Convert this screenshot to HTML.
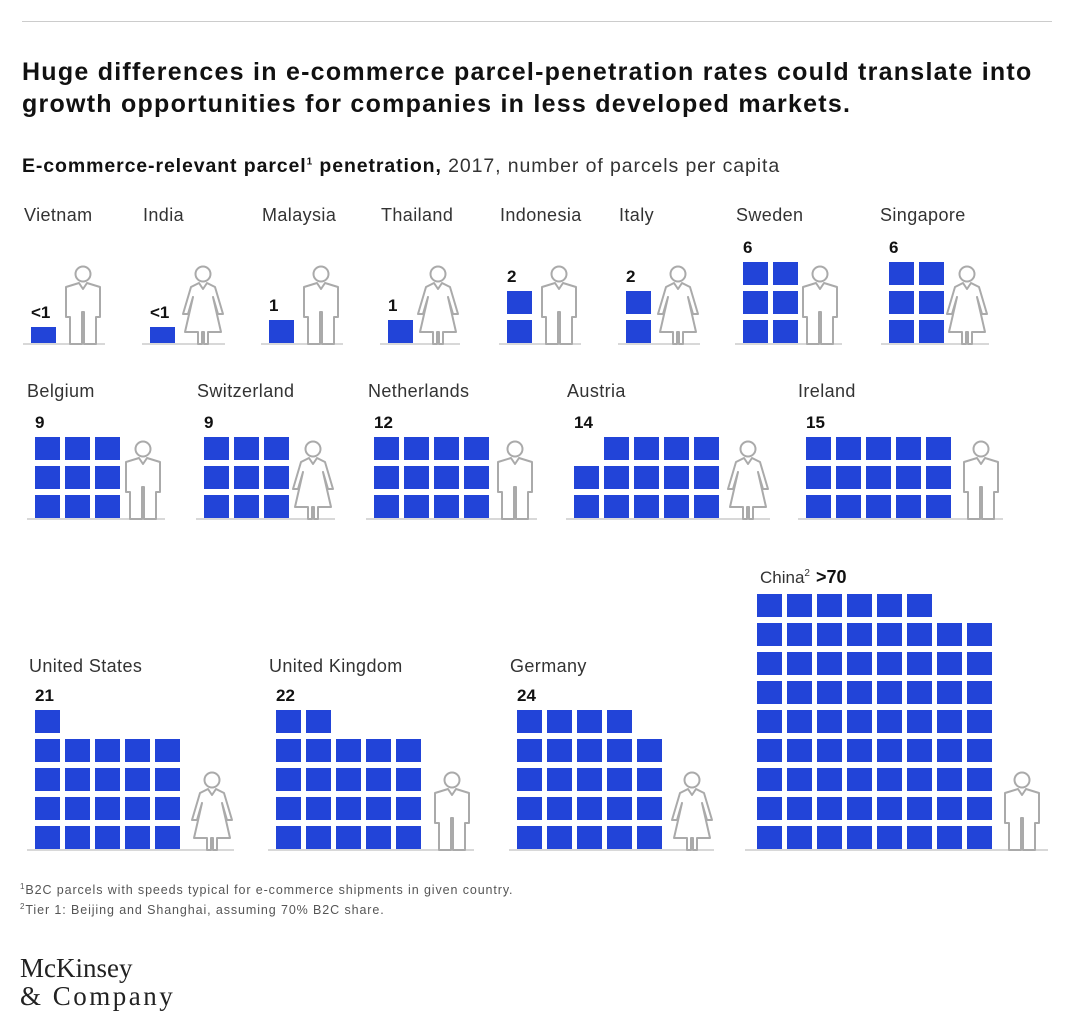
<!DOCTYPE html>
<html><head><meta charset="utf-8"><style>
body{margin:0;background:#fff;width:1080px;height:1019px;overflow:hidden;position:relative;font-family:"Liberation Sans",Arial,sans-serif;color:#222}
.t{position:absolute;white-space:nowrap}
</style></head><body>
<div class="t" style="left:22px;top:21px;width:1030px;height:1px;background:#ccc"></div>
<div class="t" style="left:22px;top:56px;font-size:25px;font-weight:bold;line-height:32px;color:#111;letter-spacing:1.25px">Huge differences in e-commerce parcel-penetration rates could translate into<br>growth opportunities for companies in less developed markets.</div>
<div class="t" style="left:22px;top:155px;font-size:19.5px;color:#333;letter-spacing:0.9px"><b style="color:#111">E-commerce-relevant parcel<sup style="font-size:10px">1</sup> penetration,</b> 2017, number of parcels per capita</div>
<svg width="1080" height="1019" style="position:absolute;left:0;top:0" id="s"></svg>
<div class="t" style="left:20px;top:882px;font-size:12.5px;color:#555;letter-spacing:0.9px"><sup style="font-size:8px">1</sup>B2C parcels with speeds typical for e-commerce shipments in given country.</div>
<div class="t" style="left:20px;top:902px;font-size:12.5px;color:#555;letter-spacing:0.9px"><sup style="font-size:8px">2</sup>Tier 1: Beijing and Shanghai, assuming 70% B2C share.</div>
<div class="t" style="left:20px;top:954px;font-family:'Liberation Serif',serif;font-size:27px;line-height:28px;color:#222">McKinsey<br><span style="letter-spacing:2.5px">&amp; Company</span></div>
<script>
const s=document.getElementById('s');let h='';
const B='#2244d8';
function person(cx,b,w){
 h+=`<circle cx="${cx}" cy="${b-70}" r="7.5" fill="none" stroke="#aaa" stroke-width="2"/>`;
 let p;
 if(!w){p=[[-4,-61],[-17,-57],[-17,-27],[-13,-27],[-13,0],[-1,0],[-1,-32],[1,-32],[1,0],[13,0],[13,-27],[17,-27],[17,-57],[4,-61],[0,-55]];}
 else{p=[[-4,-61],[-12,-57],[-20,-30],[-15,-30],[-10,-47],[-18,-12],[-5,-12],[-5,0],[-1,0],[-1,-12],[1,-12],[1,0],[5,0],[5,-12],[18,-12],[10,-47],[15,-30],[20,-30],[12,-57],[4,-61],[0,-55]];}
 h+=`<polygon points="${p.map(q=>(cx+q[0])+','+(b+q[1])).join(' ')}" fill="none" stroke="#aaa" stroke-width="2" stroke-linejoin="round"/>`;
}
function txt(x,y,t,bold,size){h+=`<text x="${x}" y="${y}" font-size="${size}" ${bold?'font-weight="bold" fill="#111"':'fill="#333" letter-spacing="0.4"'}>${t}</text>`;}
function grid(x,b,rows){let top=b;rows.forEach((r,k)=>{let y=b-24-k*29;top=y;for(let i=0;i<r[1];i++)h+=`<rect x="${x+(r[0]+i)*30}" y="${y}" width="25" height="23" fill="${B}"/>`;});return top;}
function item(o){
 h+=`<line x1="${o.l1}" x2="${o.l2}" y1="${o.b}" y2="${o.b}" stroke="#ccc" stroke-width="1.5"/>`;
 let top;
 if(o.small){h+=`<rect x="${o.gx}" y="${o.b-17}" width="25" height="16" fill="${B}"/>`;top=o.b-17;}
 else top=grid(o.gx,o.b,o.rows);
 person(o.px,o.b,o.w);
 txt(o.lx,o.ly,o.name,false,18);
 if(o.num)txt(o.gx+(o.nx||0),top-9,o.num,true,17);
}
const r1=344,L1=221;
[['Vietnam',24,31,83,0,'&lt;1',1],['India',143,150,203,1,'&lt;1',1],['Malaysia',262,269,321,0,'1',[[0,1]]],['Thailand',381,388,438,1,'1',[[0,1]]],
['Indonesia',500,507,559,0,'2',[[0,1],[0,1]]],['Italy',619,626,678,1,'2',[[0,1],[0,1]]],['Sweden',736,743,820,0,'6',[[0,2],[0,2],[0,2]]],['Singapore',880,889,967,1,'6',[[0,2],[0,2],[0,2]]]]
.forEach(a=>item({name:a[0],lx:a[1],ly:L1,gx:a[2],px:a[3],w:a[4],num:a[5],small:a[6]===1,rows:a[6],b:r1,l1:a[2]-8,l2:a[3]+22}));
const r2=519,L2=397;const f3=[[0,3],[0,3],[0,3]];
[['Belgium',27,35,143,0,'9',f3],['Switzerland',197,204,313,1,'9',f3],['Netherlands',368,374,515,0,'12',[[0,4],[0,4],[0,4]]],
['Austria',567,574,748,1,'14',[[0,5],[0,5],[1,4]]],['Ireland',798,806,981,0,'15',[[0,5],[0,5],[0,5]]]]
.forEach(a=>item({name:a[0],lx:a[1],ly:L2,gx:a[2],px:a[3],w:a[4],num:a[5],rows:a[6],b:r2,l1:a[2]-8,l2:a[3]+22}));
const r3=850,L3=672;const f5=[[0,5],[0,5],[0,5],[0,5]];
[['United States',29,35,212,1,'21',f5.concat([[0,1]])],['United Kingdom',269,276,452,0,'22',f5.concat([[0,2]])],['Germany',510,517,692,1,'24',f5.concat([[0,4]])]]
.forEach(a=>item({name:a[0],lx:a[1],ly:L3,gx:a[2],px:a[3],w:a[4],num:a[5],rows:a[6],b:r3,l1:a[2]-8,l2:a[3]+22}));
let cr=[];for(let i=0;i<8;i++)cr.push([0,8]);cr.push([0,6]);
h+=`<line x1="745" x2="1048" y1="${r3}" y2="${r3}" stroke="#ccc" stroke-width="1.5"/>`;
grid(757,r3,cr);person(1022,r3,0);
h+=`<text x="760" y="583" font-size="17" fill="#333">China<tspan font-size="10" dy="-7">2</tspan><tspan dy="7" dx="6" font-weight="bold" fill="#111" font-size="18">&gt;70</tspan></text>`;
s.innerHTML=h;
</script>
</body></html>
